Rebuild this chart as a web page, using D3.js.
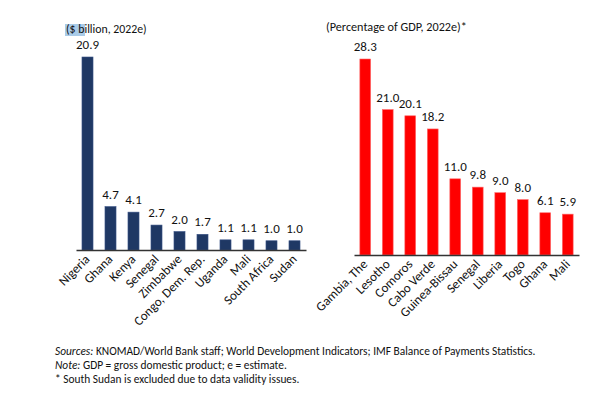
<!DOCTYPE html>
<html>
<head>
<meta charset="utf-8">
<script src="https://cdn.jsdelivr.net/npm/d3@7"></script>
<style>
  body { margin: 0; background: #fff; }
  svg { display: block; font-family: Carlito, Calibri, Lato, sans-serif; }
</style>
</head>
<body>
<svg id="chart" width="595" height="397"></svg>
<script>
// left panel: remittance inflows, $ billion
let leftCountries = ['Nigeria', 'Ghana', 'Kenya', 'Senegal', 'Zimbabwe', 'Congo, Dem. Rep.', 'Uganda', 'Mali', 'South Africa', 'Sudan'];
let leftValues = [20.9, 4.7, 4.1, 2.7, 2.0, 1.7, 1.1, 1.1, 1.0, 1.0];

// right panel: remittances as share of GDP
let rightCountries = ['Gambia, The', 'Lesotho', 'Comoros', 'Cabo Verde', 'Guinea-Bissau', 'Senegal', 'Liberia', 'Togo', 'Ghana', 'Mali'];
let rightValues = [28.3, 21.0, 20.1, 18.2, 11.0, 9.8, 9.0, 8.0, 6.1, 5.9];

let footnotes = [
    ['Sources:', ' KNOMAD/World Bank staff; World Development Indicators; IMF Balance of Payments Statistics.'],
    ['Note:', ' GDP = gross domestic product; e = estimate.'],
    ['', '* South Sudan is excluded due to data validity issues.']
];

let svg = d3.select('#chart');

function drawPanel(opts) {
    let x = d3.scaleBand()
        .domain(opts.names)
        .range([opts.x0, opts.x1])
        .paddingInner(0.52)
        .paddingOuter(0.26);

    let y = d3.scaleLinear()
        .domain([0, opts.max])
        .range([opts.base, opts.top]);

    let g = svg.append('g');

    if (opts.highlight) {
        g.append('rect')
            .attr('x', opts.titleX - 1)
            .attr('y', opts.titleY - 9)
            .attr('width', opts.highlight)
            .attr('height', 12)
            .attr('fill', '#a9cbe8');
    }

    g.append('text')
        .attr('x', opts.titleX)
        .attr('y', opts.titleY)
        .attr('font-size', opts.titleSize)
        .attr('fill', '#111')
        .text(opts.title);

    g.selectAll('rect.bar')
        .data(opts.values)
        .join('rect')
        .attr('class', 'bar')
        .attr('x', (d, i) => x(opts.names[i]))
        .attr('width', x.bandwidth())
        .attr('y', d => y(d))
        .attr('height', d => y(0) - y(d))
        .attr('fill', opts.color)
        .attr('stroke', opts.edge)
        .attr('stroke-width', 0.6);

    g.selectAll('text.val')
        .data(opts.values)
        .join('text')
        .attr('class', 'val')
        .attr('x', (d, i) => x(opts.names[i]) + x.bandwidth() / 2)
        .attr('y', d => y(d) - 8)
        .attr('text-anchor', 'middle')
        .attr('font-size', 13)
        .attr('fill', '#111')
        .text(d => d.toFixed(1));

    let axis = d3.axisBottom(x).tickSize(0).tickPadding(0);
    let ax = g.append('g')
        .attr('transform', `translate(0,${opts.base})`)
        .call(axis);
    ax.select('.domain')
        .attr('stroke', '#333')
        .attr('stroke-width', 1.6);
    ax.selectAll('.tick text')
        .attr('font-size', 13)
        .attr('font-family', 'Carlito, Calibri, Lato, sans-serif')
        .attr('fill', '#111')
        .attr('text-anchor', 'end')
        .attr('dy', 0)
        .attr('y', 0)
        .attr('transform', 'translate(3,10) rotate(-45)');
}

drawPanel({
    names: leftCountries, values: leftValues, max: 20.9,
    x0: 76, x1: 306, base: 250, top: 57,
    color: '#1f3864', edge: '#3a5386',
    title: '($ billion, 2022e)', titleX: 66, titleY: 33, titleSize: 11.8, highlight: 20
});

drawPanel({
    names: rightCountries, values: rightValues, max: 28.3,
    x0: 354, x1: 579, base: 255, top: 59,
    color: '#ff0000', edge: '#ff6b6b',
    title: '(Percentage of GDP, 2022e)*', titleX: 326, titleY: 31, titleSize: 12.2
});

svg.selectAll('text.note')
    .data(footnotes)
    .join('text')
    .attr('class', 'note')
    .attr('x', 55)
    .attr('y', (d, i) => 355 + i * 13.8)
    .attr('font-size', 11.4)
    .attr('fill', '#111')
    .each(function(d) {
        let t = d3.select(this);
        if (d[0]) t.append('tspan').attr('font-style', 'italic').text(d[0]);
        t.append('tspan').text(d[1]);
    });
</script>
</body>
</html>
